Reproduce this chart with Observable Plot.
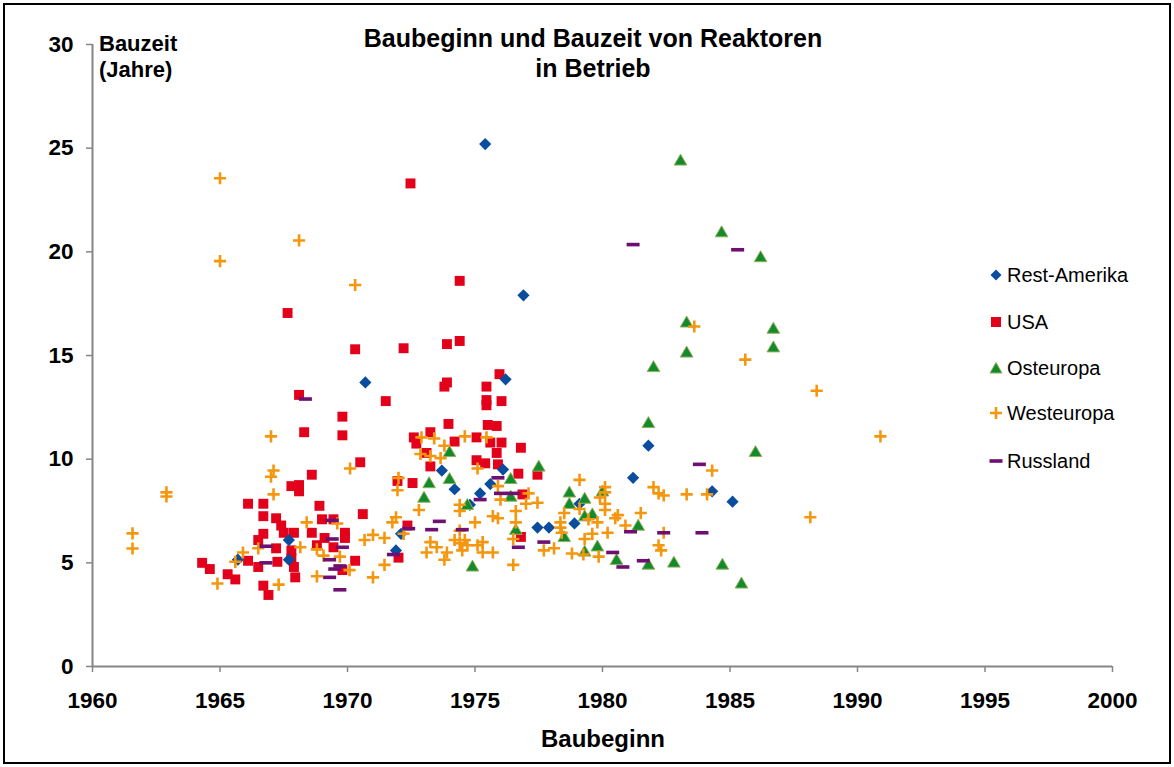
<!DOCTYPE html>
<html>
<head>
<meta charset="utf-8">
<script src="https://cdn.jsdelivr.net/npm/d3@7"></script>
<script src="https://cdn.jsdelivr.net/npm/@observablehq/plot@0.6"></script>
<style>
  body { margin: 0; background: #fff; font-family: "Liberation Sans", Arial, sans-serif; }
  #wrap { position: relative; width: 1174px; height: 767px; overflow: hidden; }
  #frame { position: absolute; left: 3px; top: 3px; width: 1164px; height: 757px; border: 2px solid #000; pointer-events: none; }
  .t { position: absolute; font-weight: bold; color: #000; white-space: nowrap; }
  #title { left: 0; width: 1186px; top: 23px; text-align: center; font-size: 25px; line-height: 30px; }
  #ylab { left: 99px; top: 31px; font-size: 22px; line-height: 26px; }
  #xlab { left: 0; width: 1206px; top: 724px; text-align: center; font-size: 24px; line-height: 30px; }
  #legend { position: absolute; left: 989px; top: 262px; }
  .li { position: absolute; left: 0; height: 26px; display: flex; align-items: center; font-size: 20px; color: #000; white-space: nowrap; }
  .li svg { margin-right: 4px; }
</style>
</head>
<body>
<div id="wrap">
  <div id="chart"></div>
  <div class="t" id="title">Baubeginn und Bauzeit von Reaktoren<br>in Betrieb</div>
  <div class="t" id="ylab">Bauzeit<br>(Jahre)</div>
  <div class="t" id="xlab">Baubeginn</div>
  <div id="legend"></div>
  <div id="frame"></div>
</div>
<script>
// ---- tick labels ----
const xTicks = [1960, 1965, 1970, 1975, 1980, 1985, 1990, 1995, 2000];
const yTicks = [0, 5, 10, 15, 20, 25, 30];
const seriesNames = ["Rest-Amerika", "USA", "Osteuropa", "Westeuropa", "Russland"];

// ---- Rest-Amerika ----
const restYears  = [1965.7, 1967.7, 1967.7, 1970.7, 1971.9, 1972.1, 1973.7, 1974.2, 1974.8, 1975.2, 1975.4, 1975.6, 1976.1, 1976.2, 1976.9, 1977.45, 1977.9, 1978.9, 1979.1, 1981.2, 1981.8, 1984.3, 1985.1];
const restValues = [5.15, 6.1, 5.15, 13.7, 5.6, 6.4, 9.45, 8.55, 7.8, 8.35, 25.2, 8.8, 9.5, 13.85, 17.9, 6.7, 6.7, 6.9, 7.85, 9.1, 10.65, 8.45, 7.95];

// ---- USA ----
const usaYears  = [1964.3, 1964.6, 1965.3, 1965.6, 1966.1, 1966.1, 1966.5, 1966.5, 1966.7, 1966.7, 1966.7, 1966.7, 1966.9, 1967.2, 1967.2, 1967.25, 1967.4, 1967.5, 1967.65, 1967.8, 1967.8, 1967.8, 1967.9, 1967.9, 1967.95, 1968.1, 1968.1, 1968.1, 1968.3, 1968.6, 1968.6, 1968.8, 1968.9, 1969.0, 1969.1, 1969.45, 1969.45, 1969.8, 1969.8, 1969.8, 1969.9, 1969.9, 1970.3, 1970.3, 1970.5, 1970.6, 1971.5, 1971.96, 1972.0, 1972.2, 1972.35, 1972.47, 1972.55, 1972.6, 1972.7, 1973.1, 1973.25, 1973.25, 1973.8, 1973.9, 1973.9, 1973.96, 1974.2, 1974.4, 1974.4, 1975.06, 1975.06, 1975.4, 1975.45, 1975.45, 1975.45, 1975.5, 1975.6, 1975.85, 1975.85, 1975.9, 1975.96, 1976.04, 1976.04, 1976.7, 1976.8, 1976.8, 1976.86, 1977.45];
const usaValues = [5.0, 4.7, 4.45, 4.2, 7.85, 5.1, 6.1, 4.8, 7.85, 7.25, 6.4, 3.9, 3.45, 7.15, 5.7, 5.05, 6.8, 6.45, 17.05, 8.7, 5.6, 5.2, 6.45, 4.8, 4.3, 8.75, 8.45, 13.1, 11.3, 9.25, 6.45, 5.85, 7.75, 7.1, 6.2, 7.1, 5.75, 12.05, 11.15, 4.65, 6.45, 6.2, 15.3, 5.1, 9.85, 7.35, 12.8, 8.95, 5.25, 15.35, 6.8, 23.3, 8.85, 11.05, 10.75, 10.3, 11.3, 9.65, 13.5, 13.7, 15.55, 11.7, 10.85, 18.6, 15.7, 11.05, 9.95, 9.8, 13.5, 12.85, 12.6, 11.65, 10.8, 11.6, 10.3, 9.75, 14.1, 12.8, 10.8, 9.3, 10.55, 6.25, 8.3, 9.25];

// ---- Osteuropa ----
const ostYears  = [1973.0, 1973.2, 1974.0, 1974.0, 1974.7, 1974.9, 1976.4, 1976.4, 1976.6, 1977.5, 1978.5, 1978.7, 1978.7, 1979.3, 1979.3, 1979.3, 1979.6, 1979.8, 1980.0, 1980.55, 1981.4, 1981.8, 1981.8, 1982.0, 1982.8, 1983.06, 1983.3, 1983.3, 1984.67, 1984.7, 1985.45, 1986.0, 1986.2, 1986.7, 1986.7];
const ostValues = [8.1, 8.8, 9.0, 10.3, 7.75, 4.78, 9.0, 8.15, 6.55, 9.6, 6.2, 8.35, 7.8, 8.05, 7.2, 5.5, 7.3, 5.75, 8.4, 5.1, 6.75, 11.7, 4.87, 14.4, 4.97, 24.36, 16.55, 15.1, 20.9, 4.87, 3.96, 10.3, 19.7, 16.25, 15.35];

// ---- Westeuropa ----
const westYears  = [1961.57, 1961.57, 1962.9, 1962.9, 1965.0, 1965.0, 1964.9, 1965.6, 1965.9, 1966.5, 1967.0, 1967.1, 1967.0, 1967.1, 1967.3, 1968.1, 1968.15, 1968.4, 1968.8, 1968.8, 1969.06, 1969.6, 1969.7, 1970.08, 1970.1, 1970.3, 1970.67, 1971.0, 1971.0, 1971.45, 1971.45, 1971.76, 1971.9, 1971.96, 1972.0, 1972.2, 1972.8, 1972.86, 1972.9, 1973.1, 1973.25, 1973.25, 1973.4, 1973.5, 1973.65, 1973.8, 1973.8, 1973.9, 1974.2, 1974.4, 1974.4, 1974.4, 1974.4, 1974.5, 1974.6, 1974.6, 1974.7, 1975.0, 1975.1, 1975.1, 1975.3, 1975.3, 1975.45, 1975.7, 1975.7, 1975.9, 1975.9, 1976.0, 1976.5, 1976.5, 1976.6, 1976.6, 1977.0, 1977.1, 1977.45, 1977.7, 1978.1, 1978.35, 1978.35, 1978.4, 1978.5, 1978.8, 1979.1, 1979.1, 1979.25, 1979.3, 1979.45, 1979.6, 1979.8, 1979.85, 1979.9, 1980.1, 1980.1, 1980.1, 1980.1, 1980.2, 1980.5, 1980.6, 1980.9, 1981.5, 1982.0, 1982.2, 1982.2, 1982.3, 1982.4, 1982.4, 1983.3, 1983.6, 1984.1, 1984.3, 1985.6, 1988.15, 1988.4, 1990.9];
const westValues = [6.42, 5.69, 8.2, 8.4, 23.55, 19.55, 4.0, 5.05, 5.5, 5.7, 11.1, 9.45, 9.15, 8.3, 3.95, 20.55, 5.75, 6.95, 5.65, 4.35, 5.35, 6.9, 5.3, 4.65, 9.55, 18.4, 6.1, 6.35, 4.3, 6.2, 4.9, 6.95, 7.2, 8.5, 9.1, 6.4, 7.55, 10.25, 11.05, 5.5, 10.15, 6.0, 11.0, 5.75, 10.05, 10.65, 5.15, 5.5, 6.1, 7.8, 7.5, 6.55, 5.95, 5.6, 11.1, 6.1, 5.85, 6.95, 9.55, 5.85, 6.0, 5.5, 11.05, 7.25, 5.5, 8.7, 7.15, 8.05, 6.15, 4.9, 7.5, 6.95, 7.85, 8.35, 7.9, 5.6, 5.7, 6.95, 6.7, 6.45, 7.4, 5.45, 9.0, 7.6, 5.4, 6.15, 7.1, 6.4, 6.95, 5.3, 8.15, 8.65, 8.4, 7.85, 7.55, 6.45, 7.15, 7.3, 6.8, 7.4, 8.65, 8.35, 5.85, 5.6, 8.25, 6.45, 8.3, 16.4, 8.3, 9.45, 14.8, 7.2, 13.3, 11.1];

// ---- Russland ----
const rusYears  = [1966.8, 1966.8, 1968.35, 1969.3, 1969.3, 1969.4, 1969.4, 1969.5, 1969.7, 1969.7, 1969.8, 1971.8, 1972.4, 1973.3, 1973.6, 1974.5, 1975.2, 1975.9, 1976.0, 1976.5, 1976.7, 1977.7, 1980.4, 1980.8, 1981.1, 1981.2, 1981.6, 1982.4, 1983.8, 1983.9, 1985.3];
const rusValues = [5.8, 5.0, 12.9, 5.15, 4.3, 7.05, 6.15, 4.7, 4.85, 3.7, 5.75, 5.4, 6.65, 6.6, 7.0, 6.6, 8.05, 9.1, 8.35, 8.35, 5.75, 6.0, 5.5, 4.8, 6.5, 20.35, 5.1, 6.45, 9.75, 6.45, 20.1];

const toRows = (ys, vs) => ys.map((y, i) => ({year: y, val: vs[i]}));
const rest = toRows(restYears, restValues);
const usa = toRows(usaYears, usaValues);
const ost = toRows(ostYears, ostValues);
const west = toRows(westYears, westValues);
const rus = toRows(rusYears, rusValues);

const colors = {rest: "#0a4d9e", usa: "#e2001a", ost: "#138a2c", ostStroke: "#93b05a", west: "#f5960f", rus: "#6e0f72"};

const dash = {
  draw(context, size) {
    context.moveTo(-6.5, -1.8);
    context.lineTo(6.5, -1.8);
    context.lineTo(6.5, 1.8);
    context.lineTo(-6.5, 1.8);
    context.closePath();
  }
};

const chart = Plot.plot({
  width: 1174,
  height: 767,
  marginLeft: 92,
  marginRight: 62,
  marginTop: 44,
  marginBottom: 101,
  x: {domain: [1960, 2000]},
  y: {domain: [0, 30]},
  style: {fontFamily: "'Liberation Sans', Arial, sans-serif", fontSize: "22.5px", fontWeight: "bold", background: "transparent", color: "#000", overflow: "visible"},
  marks: [
    Plot.axisX({ticks: xTicks, tickFormat: d => String(d), tickSize: 6, tickPadding: 20, stroke: "#868686", strokeWidth: 1.5, label: null}),
    Plot.axisY({ticks: yTicks, tickSize: 6, tickPadding: 13, stroke: "#868686", strokeWidth: 1.5, label: null}),
    Plot.ruleX([1960], {stroke: "#868686", strokeWidth: 2}),
    Plot.ruleY([0], {stroke: "#868686", strokeWidth: 2}),
    Plot.dot(usa, {x: "year", y: "val", symbol: "square", r: 5.6, fill: colors.usa, stroke: "none"}),
    Plot.dot(rest, {x: "year", y: "val", symbol: "diamond2", r: 5.5, fill: colors.rest, stroke: "none"}),
    Plot.dot(ost, {x: "year", y: "val", symbol: "triangle", r: 4.7, fill: colors.ost, stroke: colors.ostStroke, strokeWidth: 1}),
    Plot.dot(west, {x: "year", y: "val", symbol: "plus", r: 4, stroke: colors.west, strokeWidth: 2.6, fill: "none"}),
    Plot.dot(rus, {x: "year", y: "val", symbol: dash, r: 4, fill: colors.rus, stroke: "none"})
  ]
});
document.getElementById("chart").appendChild(chart);

// ---- legend ----
const legendSymbols = [
  `<svg width="14" height="14" viewBox="-7 -7 14 14"><path d="M0,-5.5L5.5,0L0,5.5L-5.5,0Z" fill="${colors.rest}"/></svg>`,
  `<svg width="14" height="14" viewBox="-7 -7 14 14"><rect x="-5" y="-5" width="10" height="10" fill="${colors.usa}"/></svg>`,
  `<svg width="14" height="14" viewBox="-7 -7 14 14"><path d="M0,-5.5L6,5L-6,5Z" fill="${colors.ost}" stroke="${colors.ostStroke}" stroke-width="1"/></svg>`,
  `<svg width="14" height="14" viewBox="-7 -7 14 14"><path d="M-6,0H6M0,-6V6" stroke="${colors.west}" stroke-width="2.6"/></svg>`,
  `<svg width="14" height="14" viewBox="-7 -7 14 14"><rect x="-6.5" y="-1.8" width="13" height="3.6" fill="${colors.rus}"/></svg>`
];
const legendTops = [0, 47, 93, 138, 186];
const legend = document.getElementById("legend");
seriesNames.forEach((name, i) => {
  const div = document.createElement("div");
  div.className = "li";
  div.style.top = legendTops[i] + "px";
  div.innerHTML = legendSymbols[i] + `<span>${name}</span>`;
  legend.appendChild(div);
});
</script>
</body>
</html>
